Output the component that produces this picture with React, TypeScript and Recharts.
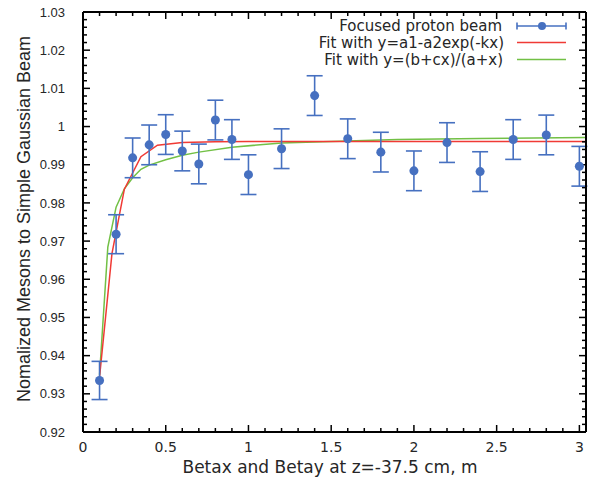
import React from 'react';
import { ComposedChart, Scatter, Line, XAxis, YAxis, ErrorBar } from 'recharts';

// Measured data: focused proton beam, normalized mesons vs beta at z=-37.5 cm
const betaValues = [0.1, 0.2, 0.3, 0.4, 0.5, 0.6, 0.7, 0.8, 0.9, 1.0, 1.2, 1.4, 1.6, 1.8, 2.0, 2.2, 2.4, 2.6, 2.8, 3.0];
const mesonRatios = [0.9335, 0.9718, 0.9918, 0.9952, 0.9979, 0.9936, 0.9902, 1.0017, 0.9966, 0.9874, 0.9942, 1.0081, 0.9968, 0.9933, 0.9884, 0.9958, 0.9882, 0.9966, 0.9978, 0.9896];
const mesonErrors = [0.0050, 0.0051, 0.0052, 0.0052, 0.0052, 0.0052, 0.0052, 0.0052, 0.0052, 0.0052, 0.0052, 0.0052, 0.0052, 0.0052, 0.0052, 0.0052, 0.0052, 0.0052, 0.0052, 0.0052];

// Fit y=a1-a2exp(-kx)
const expFitX = [0.1, 0.175, 0.25, 0.35, 0.45, 0.6, 0.8, 1.0, 1.5, 2.0, 2.5, 3.04];
const expFitY = [0.9344, 0.9667, 0.9836, 0.9921, 0.9951, 0.9958, 0.9960, 0.9961, 0.9961, 0.9961, 0.9961, 0.9961];

// Fit y=(b+cx)/(a+x)
const ratFitX = [0.1, 0.15, 0.2, 0.25, 0.3, 0.35, 0.4, 0.5, 0.6, 0.7, 0.9, 1.2, 1.5, 1.9, 2.4, 3.04];
const ratFitY = [0.9350, 0.9684, 0.9789, 0.9837, 0.9866, 0.9888, 0.9899, 0.9913, 0.9925, 0.9933, 0.9946, 0.9957, 0.9961, 0.9966, 0.9969, 0.9971];

// Axis ticks
const xMajorTicks = [0, 0.5, 1, 1.5, 2, 2.5, 3];
const xMinorTicks = [0.1, 0.2, 0.3, 0.4, 0.6, 0.7, 0.8, 0.9, 1.1, 1.2, 1.3, 1.4, 1.6, 1.7, 1.8, 1.9, 2.1, 2.2, 2.3, 2.4, 2.6, 2.7, 2.8, 2.9];
const yMajorTicks = [0.92, 0.93, 0.94, 0.95, 0.96, 0.97, 0.98, 0.99, 1.0, 1.01, 1.02, 1.03];
const yMinorTicks = [
  0.922, 0.924, 0.926, 0.928, 0.932, 0.934, 0.936, 0.938, 0.942, 0.944, 0.946, 0.948,
  0.952, 0.954, 0.956, 0.958, 0.962, 0.964, 0.966, 0.968, 0.972, 0.974, 0.976, 0.978,
  0.982, 0.984, 0.986, 0.988, 0.992, 0.994, 0.996, 0.998, 1.002, 1.004, 1.006, 1.008,
  1.012, 1.014, 1.016, 1.018, 1.022, 1.024, 1.026, 1.028,
];
const yTickLabels = ['0.92', '0.93', '0.94', '0.95', '0.96', '0.97', '0.98', '0.99', '1', '1.01', '1.02', '1.03'];
const xTickLabels = ['0', '0.5', '1', '1.5', '2', '2.5', '3'];

const legendLabels = ['Focused proton beam', 'Fit with y=a1-a2exp(-kx)', 'Fit with y=(b+cx)/(a+x)'];
const xTitle = 'Betax and Betay at z=-37.5 cm, m';
const yTitle = 'Nomalized Mesons to Simple Gaussian Beam';

const BLUE = '#4670c0';
const RED = '#f03a35';
const GREEN = '#72c045';
const TEXT = '#262626';

const X_DOMAIN: [number, number] = [0, 3.04];
const Y_DOMAIN: [number, number] = [0.92, 1.03];

const pointData = betaValues.map((x, i) => ({ x, y: mesonRatios[i], err: mesonErrors[i] }));
const expFitData = expFitX.map((x, i) => ({ x, y: expFitY[i] }));
const ratFitData = ratFitX.map((x, i) => ({ x, y: ratFitY[i] }));

const empty = () => '';
const frameLine = { stroke: '#000', strokeWidth: 2 };
const tickStroke = { stroke: '#000', strokeWidth: 1.5 };

export default function App() {
  const W = 592;
  const H = 485;
  return (
    <div style={{ position: 'absolute', left: 0, top: 0, width: W, height: H, background: '#fff' }}>
      <ComposedChart width={W} height={H} margin={{ top: 11, right: 5, bottom: 52, left: 82 }}>
        {/* bottom: labelled major ticks (pointing inward) */}
        <XAxis
          xAxisId="main"
          dataKey="x"
          type="number"
          domain={X_DOMAIN}
          allowDataOverflow
          ticks={xMajorTicks}
          interval={0}
          height={1}
          tickSize={-7}
          tickMargin={17}
          tickFormatter={(v: number) => xTickLabels[xMajorTicks.indexOf(v)] ?? String(v)}
          tick={{ fill: TEXT, fontSize: 14, fontFamily: 'DejaVu Sans' }}
          axisLine={frameLine}
          tickLine={tickStroke}
        />
        {/* bottom minor ticks */}
        <XAxis
          xAxisId="bminor"
          dataKey="x"
          type="number"
          mirror
          domain={X_DOMAIN}
          allowDataOverflow
          ticks={xMinorTicks}
          interval={0}
          height={1}
          tickSize={4}
          tickFormatter={empty}
          axisLine={false}
          tickLine={tickStroke}
        />
        {/* top frame majors */}
        <XAxis
          xAxisId="top"
          orientation="top"
          dataKey="x"
          type="number"
          domain={X_DOMAIN}
          allowDataOverflow
          ticks={xMajorTicks}
          interval={0}
          height={1}
          tickSize={-7}
          tickFormatter={empty}
          axisLine={frameLine}
          tickLine={tickStroke}
        />
        {/* top minor */}
        <XAxis
          xAxisId="tminor"
          orientation="top"
          mirror
          dataKey="x"
          type="number"
          domain={X_DOMAIN}
          allowDataOverflow
          ticks={xMinorTicks}
          interval={0}
          height={1}
          tickSize={4}
          tickFormatter={empty}
          axisLine={false}
          tickLine={tickStroke}
        />
        {/* left: labelled */}
        <YAxis
          yAxisId="main"
          type="number"
          domain={Y_DOMAIN}
          allowDataOverflow
          ticks={yMajorTicks}
          interval={0}
          width={1}
          tickSize={-7}
          tickMargin={25}
          tickFormatter={(v: number) => yTickLabels[yMajorTicks.findIndex((t) => Math.abs(t - v) < 1e-9)] ?? String(v)}
          tick={{ fill: TEXT, fontSize: 13, fontFamily: 'Liberation Sans, Arial, sans-serif' }}
          axisLine={frameLine}
          tickLine={tickStroke}
        />
        <YAxis
          yAxisId="lminor"
          type="number"
          mirror
          domain={Y_DOMAIN}
          allowDataOverflow
          ticks={yMinorTicks}
          interval={0}
          width={1}
          tickSize={4}
          tickFormatter={empty}
          axisLine={false}
          tickLine={tickStroke}
        />
        {/* right frame */}
        <YAxis
          yAxisId="right"
          orientation="right"
          type="number"
          domain={Y_DOMAIN}
          allowDataOverflow
          ticks={yMajorTicks}
          interval={0}
          width={1}
          tickSize={-7}
          tickFormatter={empty}
          axisLine={frameLine}
          tickLine={tickStroke}
        />
        <YAxis
          yAxisId="rminor"
          orientation="right"
          mirror
          type="number"
          domain={Y_DOMAIN}
          allowDataOverflow
          ticks={yMinorTicks}
          interval={0}
          width={1}
          tickSize={4}
          tickFormatter={empty}
          axisLine={false}
          tickLine={tickStroke}
        />

        <Line
          xAxisId="main"
          yAxisId="main"
          data={ratFitData}
          dataKey="y"
          type="linear"
          stroke={GREEN}
          strokeWidth={1.5}
          dot={false}
          activeDot={false}
          isAnimationActive={false}
        />
        <Line
          xAxisId="main"
          yAxisId="main"
          data={expFitData}
          dataKey="y"
          type="linear"
          stroke={RED}
          strokeWidth={1.5}
          dot={false}
          activeDot={false}
          isAnimationActive={false}
        />
        <Scatter
          xAxisId="main"
          yAxisId="main"
          data={pointData}
          dataKey="y"
          fill={BLUE}
          isAnimationActive={false}
        >
          <ErrorBar dataKey="err" direction="y" width={8} stroke={BLUE} strokeWidth={1.6} isAnimationActive={false} />
        </Scatter>
      </ComposedChart>

      <svg
        width={W}
        height={H}
        style={{ position: 'absolute', left: 0, top: 0, pointerEvents: 'none' }}
      >
        {/* legend */}
        <g fontFamily="DejaVu Sans" fontSize={15} fill={TEXT}>
          <text x={502} y={31} textAnchor="end">{legendLabels[0]}</text>
          <text x={504} y={48} textAnchor="end">{legendLabels[1]}</text>
          <text x={503} y={65} textAnchor="end">{legendLabels[2]}</text>
        </g>
        <g>
          <line x1={517} x2={566} y1={26} y2={26} stroke={BLUE} strokeWidth={1.6} />
          <line x1={517} x2={517} y1={22.5} y2={29.5} stroke={BLUE} strokeWidth={1.6} />
          <line x1={566} x2={566} y1={22.5} y2={29.5} stroke={BLUE} strokeWidth={1.6} />
          <circle cx={542} cy={26} r={4} fill={BLUE} />
          <line x1={517} x2={566} y1={42.5} y2={42.5} stroke={RED} strokeWidth={1.6} />
          <line x1={517} x2={566} y1={59.5} y2={59.5} stroke={GREEN} strokeWidth={1.6} />
        </g>
        {/* axis titles */}
        <text x={330} y={473} textAnchor="middle" fontFamily="DejaVu Sans" fontSize={17} fill={TEXT}>
          {xTitle}
        </text>
        <text
          transform="translate(24,219) rotate(-90)"
          x={0}
          y={0}
          dy="0.35em"
          textAnchor="middle"
          fontFamily="Liberation Sans, Arial, sans-serif"
          fontSize={18}
          fill={TEXT}
        >
          {yTitle}
        </text>
      </svg>
    </div>
  );
}
